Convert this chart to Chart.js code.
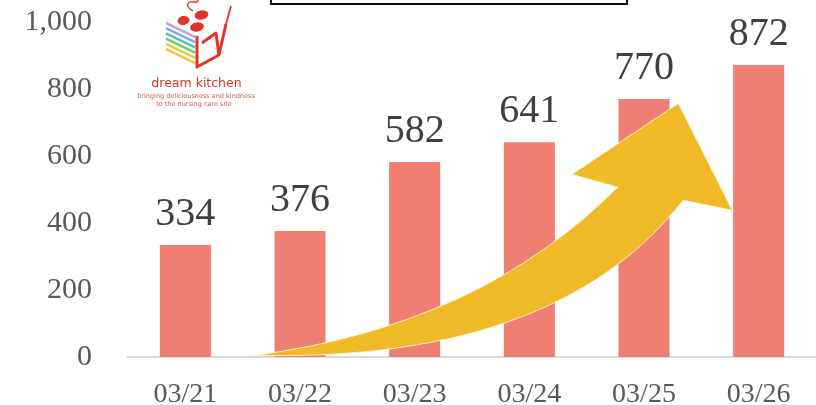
<!DOCTYPE html>
<html>
<head>
<meta charset="utf-8">
<script src="https://cdn.jsdelivr.net/npm/chart.js@4.4.1/dist/chart.umd.min.js"></script>
<style>
  html, body { margin: 0; padding: 0; background: #fff; }
  #wrap { width: 816px; height: 405px; position: relative; }
</style>
</head>
<body>
<div id="wrap"><canvas id="bar"></canvas></div>
<script>
// data
const days = ["03/21", "03/22", "03/23", "03/24", "03/25", "03/26"];
const counts = [334, 376, 582, 641, 770, 872];
const yTicks = [0, 200, 400, 600, 800, 1000];

const serif = "'Liberation Serif', 'Times New Roman', serif";

// value labels above bars
const valueLabels = {
  id: "valueLabels",
  afterDatasetsDraw(chart) {
    const ctx = chart.ctx;
    const meta = chart.getDatasetMeta(0);
    ctx.save();
    ctx.font = "40px " + serif;
    ctx.fillStyle = "#404040";
    ctx.textAlign = "center";
    ctx.textBaseline = "alphabetic";
    meta.data.forEach((bar, i) => {
      ctx.fillText(String(counts[i]), bar.x, bar.y - 20);
    });
    ctx.restore();
  },
};

// yellow growth arrow + logo + header box (decoration)
const decor = {
  id: "decor",
  afterDatasetsDraw(chart) {
    const ctx = chart.ctx;
    const xs = chart.scales.x, ys = chart.scales.y;
    const step = (xs.right - xs.left) / days.length;
    const P = (i, v) => [xs.left + (i + 0.5) * step, ys.getPixelForValue(v)];

    const tail = P(0.61, 5);
    const notchL = P(3.77, 507);
    const headL = P(3.37, 545);
    const tip = P(4.30, 757);
    const headR = P(4.77, 438);
    const notchR = P(4.34, 468);
    const cU = P(2.58, 95);
    const cL1 = P(1.97, -5);
    const cL2 = P(3.46, 80);

    ctx.save();
    ctx.beginPath();
    ctx.moveTo(...tail);
    ctx.quadraticCurveTo(...cU, ...notchL);
    ctx.lineTo(...headL);
    ctx.lineTo(...tip);
    ctx.lineTo(...headR);
    ctx.lineTo(...notchR);
    ctx.bezierCurveTo(...cL2, ...cL1, ...tail);
    ctx.closePath();
    ctx.fillStyle = "#F0B928";
    ctx.fill();
    ctx.strokeStyle = "rgba(255,245,200,0.9)";
    ctx.lineWidth = 1;
    ctx.stroke();
    ctx.restore();
  },
  afterDraw(chart) {
    const ctx = chart.ctx;
    ctx.save();
    // header box, cut off at the top
    ctx.fillStyle = "#fff";
    ctx.fillRect(270, -5, 357, 9);
    ctx.strokeStyle = "#111";
    ctx.lineWidth = 2;
    ctx.strokeRect(271, -5, 356, 9);

    // logo: rainbow cake box
    const stripes = ["#c8a2d8", "#7fb0e0", "#4fc0c8", "#7cc95a", "#c8d94a", "#f2c84a"];
    ctx.lineWidth = 2.6;
    stripes.forEach((c, k) => {
      ctx.strokeStyle = c;
      ctx.beginPath();
      ctx.moveTo(166, 23 + k * 5.2);
      ctx.lineTo(195, 37 + k * 5.2);
      ctx.stroke();
    });
    ctx.fillStyle = "#e2332b";
    [[201.5, 15, 7, 4.5], [183.5, 20.5, 6, 4.5], [197, 27, 7, 4.5]].forEach(([cx, cy, rx, ry]) => {
      ctx.beginPath();
      ctx.ellipse(cx, cy, rx, ry, -0.2, 0, Math.PI * 2);
      ctx.fill();
    });
    ctx.strokeStyle = "#e2332b";
    ctx.lineJoin = "round";
    ctx.lineWidth = 3;
    ctx.beginPath();
    ctx.moveTo(197, 36);
    ctx.lineTo(197, 67);
    ctx.lineTo(219, 55);
    ctx.lineTo(226, 24);
    ctx.moveTo(202, 43);
    ctx.lineTo(216, 33);
    ctx.lineTo(219, 55);
    ctx.stroke();
    ctx.lineWidth = 1.8;
    ctx.beginPath();
    ctx.moveTo(226, 24);
    ctx.lineTo(231, 6);
    ctx.stroke();
    ctx.lineWidth = 1.4;
    ctx.beginPath();
    ctx.moveTo(193, 11);
    ctx.bezierCurveTo(184, 6, 188, 0, 194, 2);
    ctx.bezierCurveTo(198, 3, 199, 0, 197, -1);
    ctx.stroke();

    ctx.textAlign = "center";
    ctx.fillStyle = "#d4352b";
    ctx.font = "12.5px 'DejaVu Sans', sans-serif";
    ctx.fillText("dream kitchen", 196.5, 87);
    ctx.font = "6.5px 'DejaVu Sans', sans-serif";
    ctx.fillStyle = "#c9564f";
    ctx.fillText("bringing deliciousness and kindness", 196, 98);
    ctx.fillText("to the nursing care site", 194, 106);
    ctx.restore();
  },
};

new Chart(document.getElementById("bar").getContext("2d"), {
  type: "bar",
  data: {
    labels: days,
    datasets: [{ data: counts, backgroundColor: "#F07F73", categoryPercentage: 0.9, barPercentage: 0.495 }],
  },
  options: {
    responsive: true,
    maintainAspectRatio: false,
    animation: false,
    layout: { padding: { top: 22, right: 0, left: 0, bottom: 0 } },
    plugins: { legend: { display: false }, tooltip: { enabled: false } },
    scales: {
      x: {
        grid: { display: false },
        border: { display: true, color: "#d9d9d9", width: 2 },
        ticks: { color: "#595959", font: { family: serif, size: 28 }, padding: 13, maxRotation: 0 },
        afterFit: (s) => { s.height = 48; },
      },
      y: {
        min: 0,
        max: 1000,
        afterBuildTicks: (s) => { s.ticks = yTicks.map((v) => ({ value: v })); },
        grid: { display: false, drawTicks: false },
        border: { display: false },
        ticks: { color: "#595959", font: { family: serif, size: 30 }, padding: 36, callback: (v) => v.toLocaleString("en-US") },
        afterFit: (s) => {
          s.width = 128;
          s.paddingTop = 0;
          s.paddingBottom = 0;
        },
      },
    },
  },
  plugins: [valueLabels, decor],
});
</script>
</body>
</html>
